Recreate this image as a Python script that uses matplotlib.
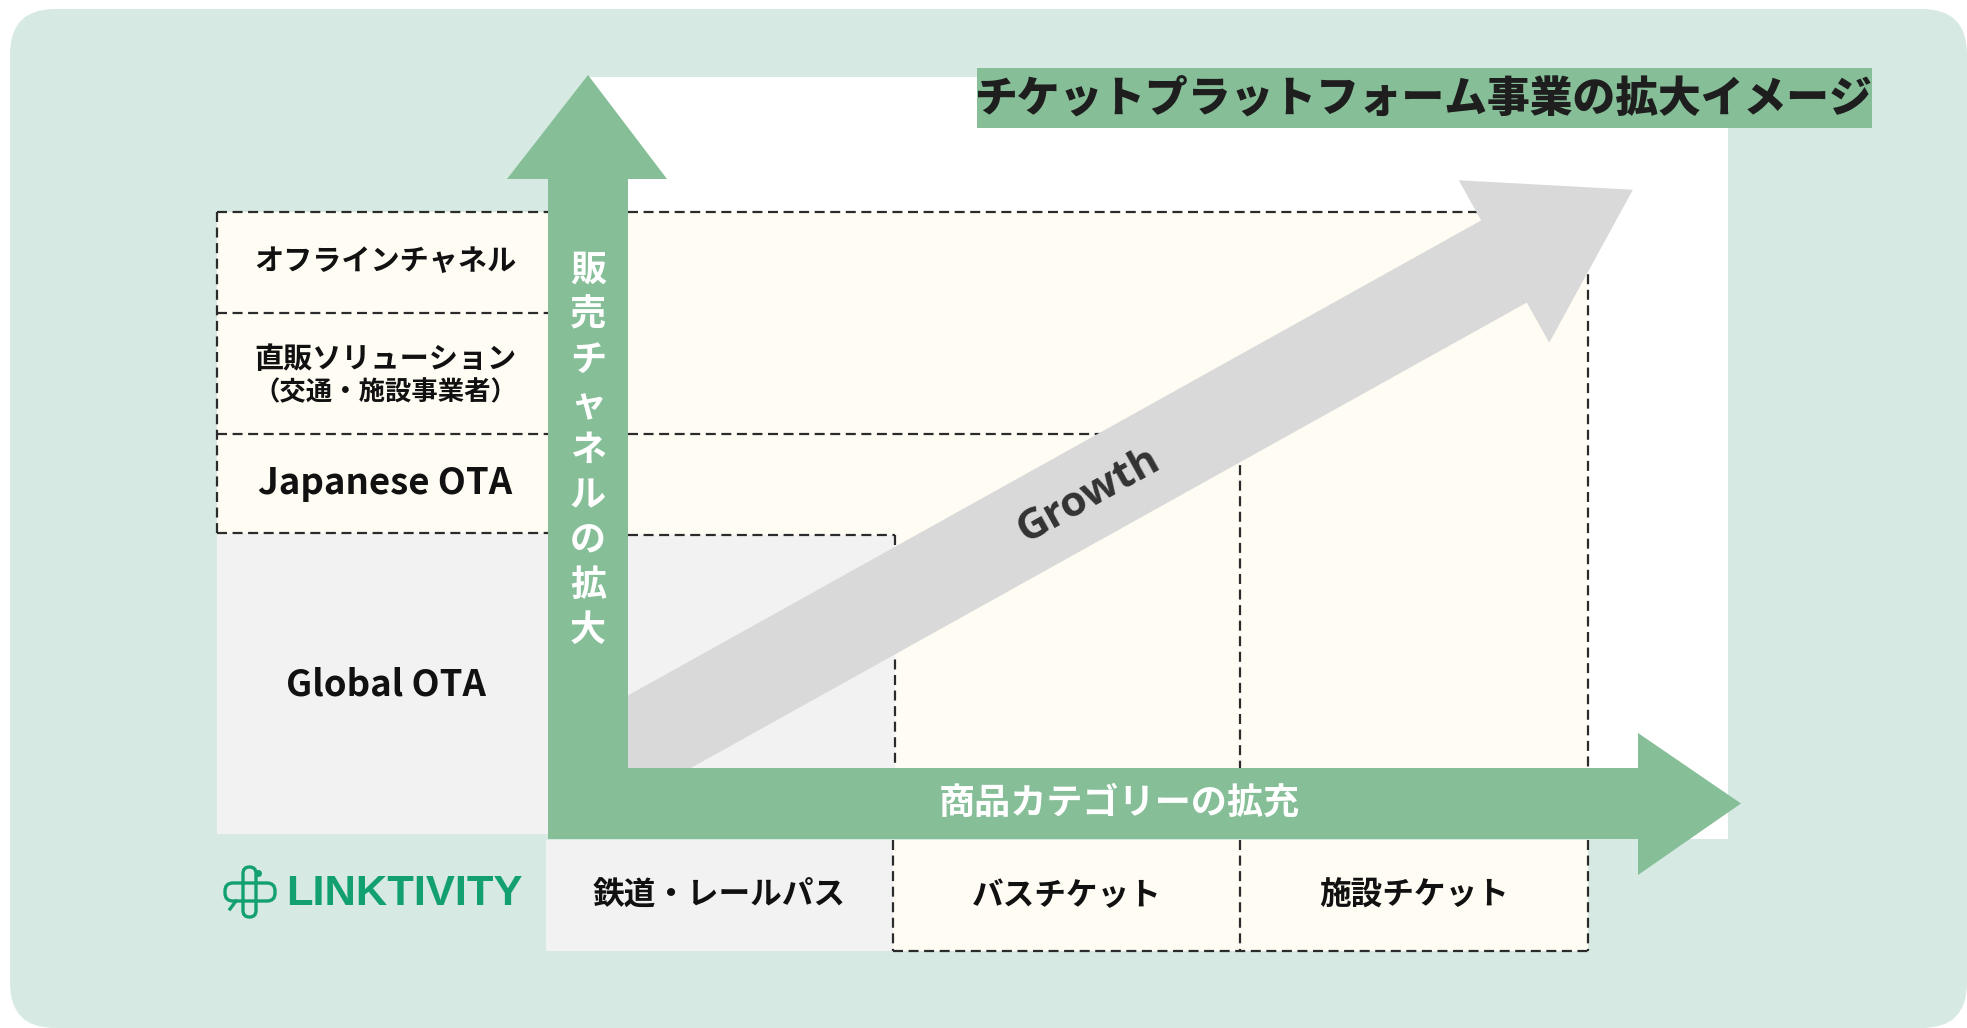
import matplotlib
matplotlib.use("Agg")
import matplotlib.pyplot as plt
from matplotlib.patches import Rectangle, FancyBboxPatch, Polygon
import numpy as np

plt.rcParams['font.family'] = ['Noto Sans CJK JP', 'DejaVu Sans']

# ---- content ----
title = "チケットプラットフォーム事業の拡大イメージ"
channel_labels = ["オフラインチャネル", "直販ソリューション", "（交通・施設事業者）", "Japanese OTA", "Global OTA"]
category_labels = ["鉄道・レールパス", "バスチケット", "施設チケット"]
y_axis_label = "販売チャネルの拡大"
x_axis_label = "商品カテゴリーの拡充"
growth_label = "Growth"
logo_text = "LINKTIVITY"

# ---- colours ----
BG = "#d6e9e2"
GREEN = "#86be98"
CREAM = "#fffcf3"
GRAY = "#f2f2f2"
GROWTH = "#d9d9d9"
DASH = "#2b2b2b"
LOGO = "#13a070"

W, H = 1967, 1028
fig = plt.figure(figsize=(W / 100, H / 100), dpi=100, facecolor="white")
ax = fig.add_axes([0, 0, 1, 1])
ax.set_xlim(0, W)
ax.set_ylim(H, 0)
ax.axis("off")

# layout
col_left, col_right = 217, 548          # label column
shaft_l, shaft_r = 548, 628             # vertical arrow shaft
row_y = [212, 313, 434, 533, 834]       # channel rows
cat_x = [546, 893, 1240, 1588]          # category columns
hshaft_t, hshaft_b = 768, 839
bottom_row = (840, 951)

# background
ax.add_patch(FancyBboxPatch((10, 9), W - 10, H - 9, boxstyle="round,pad=0,rounding_size=45",
                            fc=BG, ec="none", zorder=0))
ax.add_patch(Rectangle((588, 77), 1728 - 588, hshaft_b - 77, fc="white", ec="none", zorder=1))

dash_kw = dict(color=DASH, lw=1.6, ls=(0, (4.5, 2.5)), zorder=3)

# left label column cells
for i in range(3):
    ax.add_patch(Rectangle((col_left, row_y[i]), col_right - col_left, row_y[i + 1] - row_y[i],
                           fc=CREAM, ec="none", zorder=2))
ax.add_patch(Rectangle((col_left, row_y[3]), col_right - col_left, row_y[4] - row_y[3],
                       fc=GRAY, ec="none", zorder=2))
for y in row_y[:4]:
    ax.plot([col_left, col_right], [y, y], **dash_kw)
ax.plot([col_left, col_left], [row_y[0], row_y[3]], **dash_kw)

# main area cells (nested)
ax.add_patch(Rectangle((shaft_r, row_y[0]), cat_x[3] - shaft_r, hshaft_t - row_y[0],
                       fc=CREAM, ec="none", zorder=2))
ax.plot([shaft_r, cat_x[3]], [row_y[0], row_y[0]], **dash_kw)
ax.plot([cat_x[3], cat_x[3]], [row_y[0], hshaft_t], **dash_kw)
ax.plot([shaft_r, cat_x[2]], [row_y[2], row_y[2]], **dash_kw)
ax.plot([cat_x[2], cat_x[2]], [row_y[2], hshaft_t], **dash_kw)
ax.add_patch(Rectangle((shaft_r, row_y[3] + 2), cat_x[1] + 2 - shaft_r, hshaft_t - row_y[3] - 2,
                       fc=GRAY, ec="none", zorder=2))
ax.plot([shaft_r, cat_x[1] + 2], [row_y[3] + 2, row_y[3] + 2], **dash_kw)
ax.plot([cat_x[1] + 2, cat_x[1] + 2], [row_y[3] + 2, hshaft_t], **dash_kw)

# bottom category row
ax.add_patch(Rectangle((cat_x[0], bottom_row[0]), cat_x[1] - cat_x[0], bottom_row[1] - bottom_row[0],
                       fc=GRAY, ec="none", zorder=2))
for i in (1, 2):
    ax.add_patch(Rectangle((cat_x[i], bottom_row[0]), cat_x[i + 1] - cat_x[i], bottom_row[1] - bottom_row[0],
                           fc=CREAM, ec="none", zorder=2))
for x in cat_x[1:]:
    ax.plot([x, x], [bottom_row[0], bottom_row[1]], **dash_kw)
ax.plot([cat_x[1], cat_x[3]], [bottom_row[1], bottom_row[1]], **dash_kw)

# growth arrow
start = np.array([590.0, 770.4])
base = np.array([1504.0, 261.5])
u = (base - start) / np.linalg.norm(base - start)
n = np.array([-u[1], u[0]])
half_shaft, half_head, head_len = 47, 93, 147.5
tip = base + head_len * u
pts = [start + half_shaft * n, base + half_shaft * n, base + half_head * n, tip,
       base - half_head * n, base - half_shaft * n, start - half_shaft * n]
ax.add_patch(Polygon(pts, closed=True, fc=GROWTH, ec="none", zorder=4))
ang = np.degrees(np.arctan2(-u[1], u[0]))
ax.text(1089, 496, growth_label, rotation=ang, rotation_mode="anchor", ha="center", va="center",
        fontsize=30.5, fontweight="bold", color="#333333", family=["Open Sans", "DejaVu Sans"], zorder=5)

# green axis arrows
vx = (shaft_l + shaft_r) / 2
vert = [(shaft_l, hshaft_b), (shaft_l, 179), (507, 179), (vx, 75), (667, 179), (shaft_r, 179), (shaft_r, hshaft_b)]
ax.add_patch(Polygon(vert, closed=True, fc=GREEN, ec="none", zorder=6))
hy = (hshaft_t + hshaft_b) / 2
horiz = [(shaft_l, hshaft_t), (1638, hshaft_t), (1638, 733), (1741, hy), (1638, 875), (1638, hshaft_b), (shaft_l, hshaft_b)]
ax.add_patch(Polygon(horiz, closed=True, fc=GREEN, ec="none", zorder=6))

for i, ch in enumerate(y_axis_label):
    ax.text(vx, 270 + i * 45.1, ch, ha="center", va="center", fontsize=26, fontweight="bold",
            color="white", zorder=7)
ax.text(1119, 803, x_axis_label, ha="center", va="center", fontsize=26, fontweight="bold",
        color="white", zorder=7)

# title
ax.add_patch(Rectangle((977, 68), 1872 - 977, 128 - 68, fc=GREEN, ec="none", zorder=8))
ax.text(1424, 99, title, ha="center", va="center", fontsize=30.8, fontweight="heavy", color="#1e1e1e", zorder=9)

# channel labels
lx = (col_left + col_right) / 2 + 3
ax.text(lx, 261, channel_labels[0], ha="center", va="center", fontsize=21, fontweight="bold", color="#111", zorder=9)
ax.text(lx, 359, channel_labels[1], ha="center", va="center", fontsize=21, fontweight="bold", color="#111", zorder=9)
ax.text(lx, 393, channel_labels[2], ha="center", va="center", fontsize=19, fontweight="bold", color="#111", zorder=9)
ax.text(lx, 484, channel_labels[3], ha="center", va="center", fontsize=26.3, fontweight="bold", color="#111", zorder=9)
ax.text(lx, 685, channel_labels[4], ha="center", va="center", fontsize=26.3, fontweight="bold", color="#111", zorder=9)

# category labels
for i, lab in enumerate(category_labels):
    cx = (cat_x[i] + cat_x[i + 1]) / 2
    ax.text(cx, 896, lab, ha="center", va="center", fontsize=22.8, fontweight="bold", color="#111", zorder=9)

# logo
ax.add_patch(FancyBboxPatch((243, 867), 13, 50, boxstyle="round,pad=0,rounding_size=6.5",
                            fc="none", ec=LOGO, lw=2.4, zorder=9))
ax.add_patch(FancyBboxPatch((225, 883), 50, 18, boxstyle="round,pad=0,rounding_size=8",
                            fc="none", ec=LOGO, lw=2.4, zorder=9))
ax.plot([258], [873], marker="o", ms=4, color=LOGO, zorder=9)
ax.plot([236, 230], [901, 909], color=LOGO, lw=2.4, zorder=9)
ax.text(286, 894, logo_text, ha="left", va="center", fontsize=31.3, fontweight="bold", color=LOGO,
        family=["Liberation Sans", "DejaVu Sans"], zorder=9)

fig.savefig("out.png", dpi=100, facecolor="white")
